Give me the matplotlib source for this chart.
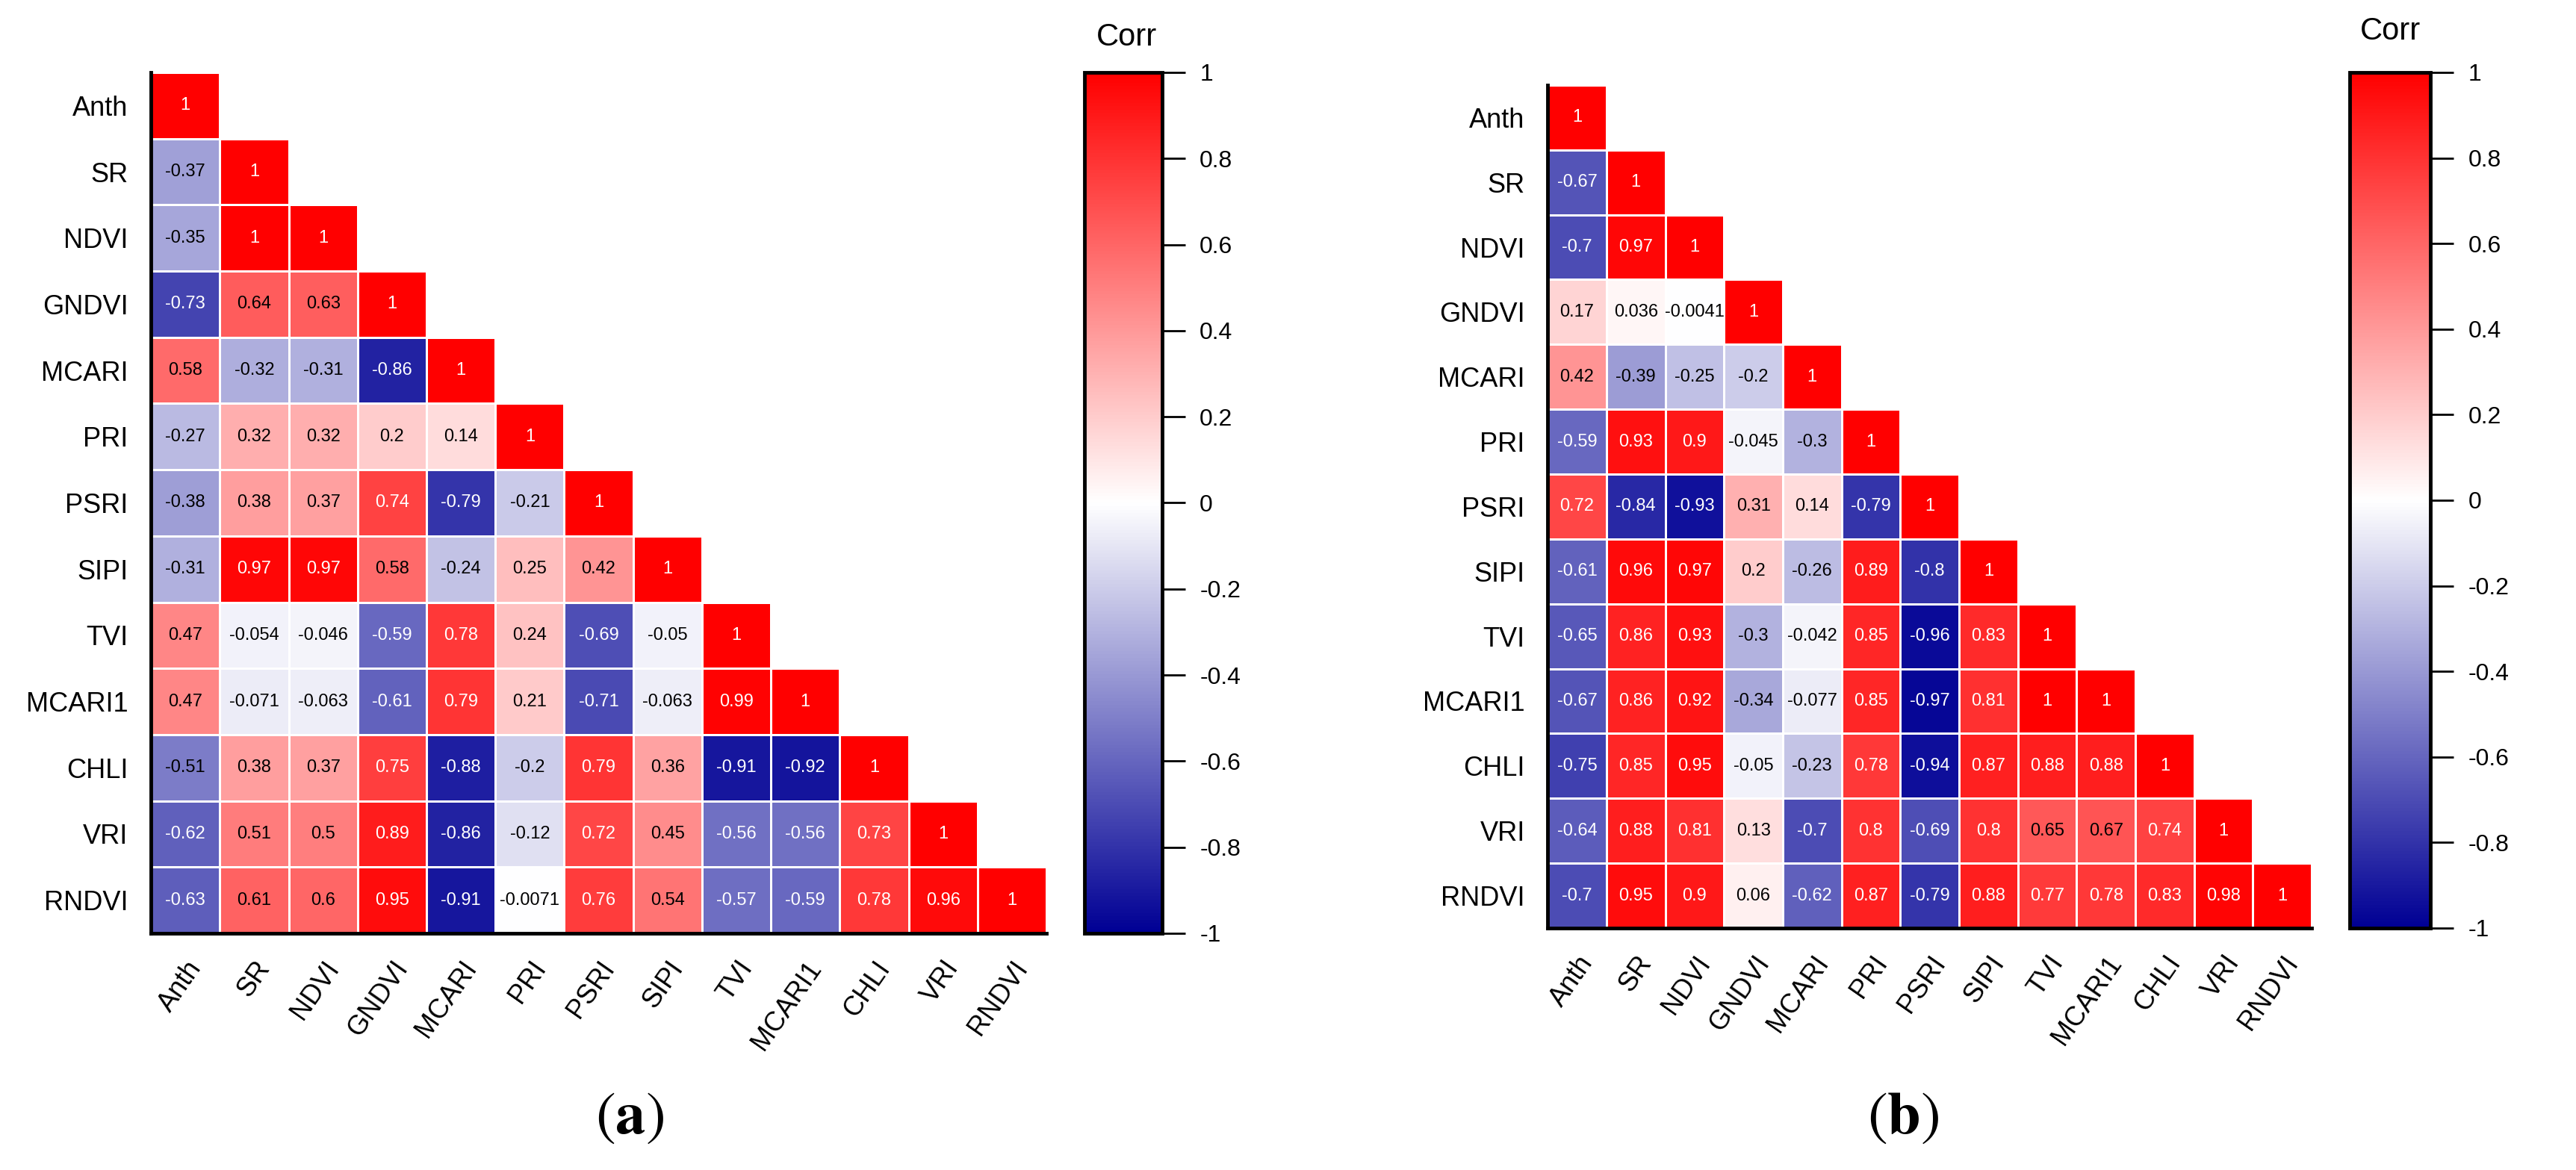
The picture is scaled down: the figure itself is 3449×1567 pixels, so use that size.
import numpy as np
import matplotlib
matplotlib.use('Agg')
import matplotlib.pyplot as plt
from matplotlib.colors import LinearSegmentedColormap

plt.rcParams['font.family'] = ['Liberation Sans', 'DejaVu Sans']
plt.rcParams['mathtext.fontset'] = 'stix'

# 변수 이름
labels = ['Anth', 'SR', 'NDVI', 'GNDVI', 'MCARI', 'PRI', 'PSRI', 'SIPI',
          'TVI', 'MCARI1', 'CHLI', 'VRI', 'RNDVI']

# (a) 하삼각 상관계수
corr_a = [
    [1],
    [-0.37, 1],
    [-0.35, 1, 1],
    [-0.73, 0.64, 0.63, 1],
    [0.58, -0.32, -0.31, -0.86, 1],
    [-0.27, 0.32, 0.32, 0.2, 0.14, 1],
    [-0.38, 0.38, 0.37, 0.74, -0.79, -0.21, 1],
    [-0.31, 0.97, 0.97, 0.58, -0.24, 0.25, 0.42, 1],
    [0.47, -0.054, -0.046, -0.59, 0.78, 0.24, -0.69, -0.05, 1],
    [0.47, -0.071, -0.063, -0.61, 0.79, 0.21, -0.71, -0.063, 0.99, 1],
    [-0.51, 0.38, 0.37, 0.75, -0.88, -0.2, 0.79, 0.36, -0.91, -0.92, 1],
    [-0.62, 0.51, 0.5, 0.89, -0.86, -0.12, 0.72, 0.45, -0.56, -0.56, 0.73, 1],
    [-0.63, 0.61, 0.6, 0.95, -0.91, -0.0071, 0.76, 0.54, -0.57, -0.59, 0.78, 0.96, 1],
]

# (b) 하삼각 상관계수
corr_b = [
    [1],
    [-0.67, 1],
    [-0.7, 0.97, 1],
    [0.17, 0.036, -0.0041, 1],
    [0.42, -0.39, -0.25, -0.2, 1],
    [-0.59, 0.93, 0.9, -0.045, -0.3, 1],
    [0.72, -0.84, -0.93, 0.31, 0.14, -0.79, 1],
    [-0.61, 0.96, 0.97, 0.2, -0.26, 0.89, -0.8, 1],
    [-0.65, 0.86, 0.93, -0.3, -0.042, 0.85, -0.96, 0.83, 1],
    [-0.67, 0.86, 0.92, -0.34, -0.077, 0.85, -0.97, 0.81, 1, 1],
    [-0.75, 0.85, 0.95, -0.05, -0.23, 0.78, -0.94, 0.87, 0.88, 0.88, 1],
    [-0.64, 0.88, 0.81, 0.13, -0.7, 0.8, -0.69, 0.8, 0.65, 0.67, 0.74, 1],
    [-0.7, 0.95, 0.9, 0.06, -0.62, 0.87, -0.79, 0.88, 0.77, 0.78, 0.83, 0.98, 1],
]

cmap = LinearSegmentedColormap.from_list('corr', [(0.0, 0.0, 0.58), (1, 1, 1), (1, 0, 0)])
n = len(labels)


def to_matrix(rows):
    m = np.full((n, n), np.nan)
    for i, r in enumerate(rows):
        m[i, :len(r)] = r
    return np.ma.masked_invalid(m)


def draw_panel(fig, rows, ax_rect, cax_rect, corr_xy, tag, tag_xy):
    ax = fig.add_axes(ax_rect)
    m = to_matrix(rows)
    mesh = ax.pcolormesh(np.arange(n + 1), np.arange(n + 1), m, cmap=cmap,
                         vmin=-1, vmax=1, edgecolors='white', linewidth=1.0)
    ax.set_xlim(0, n)
    ax.set_ylim(n, 0)
    for i, r in enumerate(rows):
        for j, v in enumerate(r):
            col = 'white' if (v > 0.7 or v < -0.55) else 'black'
            ax.text(j + 0.5, i + 0.5, f'{v:g}', ha='center', va='center',
                    fontsize=17, color=col)
    ax.set_xticks(np.arange(n) + 0.5)
    ax.set_yticks(np.arange(n) + 0.5)
    ax.set_xticklabels(labels, rotation=55, ha='right', rotation_mode='anchor', fontsize=26)
    ax.set_yticklabels(labels, fontsize=26)
    ax.tick_params(length=0, pad=22)
    for s in ['top', 'right']:
        ax.spines[s].set_visible(False)
    for s in ['left', 'bottom']:
        ax.spines[s].set_linewidth(3.5)

    cax = fig.add_axes(cax_rect)
    cb = fig.colorbar(mesh, cax=cax, ticks=np.arange(-1, 1.01, 0.2))
    cb.ax.set_yticklabels(['-1', '-0.8', '-0.6', '-0.4', '-0.2', '0',
                           '0.2', '0.4', '0.6', '0.8', '1'])
    cb.ax.tick_params(labelsize=23, length=22, width=2, pad=14)
    cb.outline.set_linewidth(3.5)
    fig.text(corr_xy[0], corr_xy[1], 'Corr', ha='center', va='center', fontsize=30)
    fig.text(tag_xy[0], tag_xy[1], r'$(\mathbf{' + tag + '})$', ha='center', va='center',
             fontsize=58)


fig = plt.figure(figsize=(34.49, 15.67), dpi=100)

draw_panel(fig, corr_a, [0.0586, 0.2023, 0.3476, 0.7358], [0.421, 0.2023, 0.0302, 0.7358],
           (0.4375, 0.968), 'a', (0.2445, 0.045))
draw_panel(fig, corr_b, [0.6008, 0.2068, 0.2966, 0.7205], [0.9121, 0.2068, 0.0315, 0.7313],
           (0.928, 0.973), 'b', (0.7388, 0.045))

plt.savefig('out.png', dpi=100)
